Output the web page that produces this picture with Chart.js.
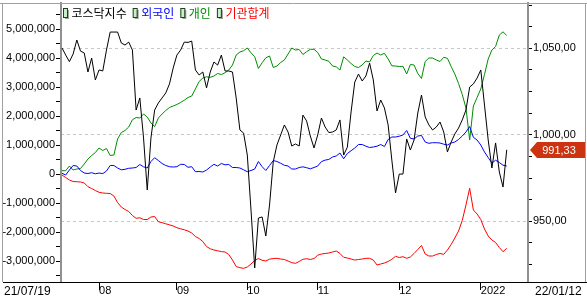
<!DOCTYPE html>
<html>
<head>
<meta charset="utf-8">
<script src="https://cdn.jsdelivr.net/npm/chart.js@4.4.0/dist/chart.umd.min.js"></script>
<style>
  html, body { margin: 0; padding: 0; background: #fff; }
  canvas { display: block; }
</style>
</head>
<body>
<canvas id="chart" width="587" height="301"></canvas>
<script>
// legend order / colours
var seriesNames = ['코스닥지수', '외국인', '개인', '기관합계'];
var seriesColors = ['#000000', '#0000ff', '#008c00', '#ff0000'];

// month starts on the trading-day axis (day 0 = 21/07/19)
var monthTicks = [10, 31, 50, 69, 91, 113];
var monthLabels = ['08', '09', '10', '11', '12', '2022'];
var firstDate = '21/07/19';
var lastDate = '22/01/12';

// labelled ticks of both value axes
var leftTicks = [-3000000, -2000000, -1000000, 0, 1000000, 2000000, 3000000, 4000000, 5000000];
var rightTicks = [950, 1000, 1050];

// KOSDAQ index, right axis
var kosdaq = [1050.2,1046.1,1042.3,1046.7,1054.8,1048.4,1047.3,1036.3,1044.4,1031.7,
  1037.5,1036.9,1049.0,1059.4,1059.4,1059.4,1053.1,1051.9,1053.6,1049.0,
  1014.3,1021.3,998.2,968.1,998.2,1014.3,1018.4,1021.3,1024.2,1029.4,
  1038.6,1046.1,1049.0,1053.6,1053.4,1054.2,1037.5,1034.6,1036.3,1027.1,
  1036.3,1042.1,1040.3,1046.1,1036.9,1036.9,1036.3,1021.3,1002.8,1001.0,
  988.3,956.5,923.0,951.9,952.5,941.5,959.4,984.3,994.1,999.9,
  1005.7,1001.6,993.5,994.7,993.5,1011.4,1008.0,999.3,992.4,999.9,
  1009.7,1004.5,1001.3,1001.6,1002.8,1008.6,988.3,992.9,1013.2,1030.5,
  1035.1,1031.1,1034.0,1041.5,1031.7,1013.8,1020.1,1015.5,1005.7,985.4,
  966.4,977.3,977.3,997.6,991.2,997.0,1012.6,1023.0,1010.3,1005.7,
  1002.8,1004.5,1007.4,1001.6,990.1,995.8,1000.5,1003.9,1008.6,1014.3,
  1027.6,1029.4,1032.8,1037.5,1017.2,997.0,980.8,995.3,978.5,969.8,
  991.33];

// cumulative net buying, left axis
var foreign = [24000,-34000,138000,293000,276000,121000,34000,17000,45000,7000,
  34000,14000,103000,293000,293000,207000,145000,162000,197000,207000,
  224000,328000,248000,207000,431000,562000,466000,362000,293000,252000,
  241000,252000,334000,328000,231000,252000,79000,86000,69000,138000,
  241000,334000,276000,362000,317000,328000,224000,224000,207000,145000,
  79000,121000,172000,431000,252000,121000,293000,466000,431000,372000,
  300000,276000,172000,172000,224000,248000,217000,179000,224000,276000,
  428000,479000,503000,586000,621000,724000,524000,707000,803000,897000,
  1017000,1017000,959000,914000,931000,959000,1017000,948000,1190000,1276000,
  1276000,1303000,1345000,1500000,1231000,1207000,1310000,1328000,1103000,1059000,
  1079000,1079000,1069000,1028000,1000000,1069000,1103000,1190000,1310000,1448000,
  1638000,1266000,1172000,1000000,759000,569000,379000,476000,397000,303000,
  276000];

var individual = [114000,114000,276000,138000,172000,190000,345000,517000,638000,741000,
  897000,810000,879000,638000,655000,1207000,1431000,1500000,1621000,1872000,
  1948000,1931000,2069000,1966000,1759000,1631000,1931000,2069000,2190000,2293000,
  2345000,2397000,2466000,2545000,2638000,2690000,2931000,3190000,3310000,3352000,
  3334000,3379000,3466000,3431000,3493000,3586000,3759000,4103000,4207000,4252000,
  4345000,4179000,4045000,3638000,3838000,4007000,4069000,3672000,3724000,3845000,
  3931000,4138000,4345000,4276000,4293000,4121000,4217000,4300000,4300000,4190000,
  3966000,3931000,3886000,3724000,3697000,3586000,4041000,3931000,3810000,3707000,
  3672000,3759000,3897000,3862000,4086000,4172000,4103000,4162000,3966000,3731000,
  3724000,3707000,3714000,3448000,3776000,3759000,3466000,3293000,3879000,4000000,
  4000000,3931000,3879000,4024000,3990000,3707000,3448000,3121000,2741000,2276000,
  1172000,2345000,2638000,2931000,3431000,3966000,4276000,4397000,4793000,4903000,
  4776000];

var institution = [-34000,-121000,-207000,-259000,-266000,-276000,-310000,-438000,-500000,-569000,
  -631000,-655000,-666000,-672000,-759000,-983000,-1138000,-1224000,-1293000,-1431000,
  -1528000,-1510000,-1569000,-1569000,-1483000,-1466000,-1645000,-1679000,-1717000,-1752000,
  -1793000,-1852000,-1890000,-1924000,-1966000,-2034000,-2155000,-2224000,-2328000,-2500000,
  -2579000,-2621000,-2648000,-2676000,-2690000,-2776000,-2966000,-3190000,-3231000,-3252000,
  -3207000,-3103000,-2983000,-2914000,-2976000,-3000000,-2938000,-2914000,-2907000,-2931000,
  -2948000,-3000000,-3059000,-3079000,-3017000,-2941000,-2921000,-2948000,-2914000,-2800000,
  -2759000,-2741000,-2724000,-2690000,-2655000,-2741000,-2872000,-2897000,-2931000,-2966000,
  -2948000,-2931000,-2907000,-2907000,-2966000,-3138000,-3103000,-3069000,-3017000,-2941000,
  -2838000,-2879000,-2852000,-2907000,-2862000,-2741000,-2603000,-2466000,-2759000,-2828000,
  -2828000,-2776000,-2741000,-2769000,-2621000,-2431000,-2207000,-1966000,-1603000,-1069000,
  -493000,-1241000,-1379000,-1569000,-1897000,-2138000,-2276000,-2362000,-2534000,-2679000,
  -2562000];

function toPoints(arr) {
  return arr.map(function (v, i) { return { x: i, y: v }; });
}

// index labels are shown as 1,050,00 in the original
function fmtIndex(v) {
  var parts = v.toFixed(2).split('.');
  return Number(parts[0]).toLocaleString('en-US') + ',' + parts[1];
}

function noPad(s) {
  s.paddingTop = 0; s.paddingBottom = 0; s.paddingLeft = 0; s.paddingRight = 0;
}

// labelled ticks plus unlabelled minor ticks between them
function withMinor(major, step, parts, lo, hi) {
  var out = [];
  var first = major[0] - step;
  for (var k = 0; k <= (major.length + 1) * parts; k++) {
    var v = first + k * step / parts;
    if (v > lo && v < hi) out.push({ value: v });
  }
  return out;
}

// frame, legend, end dates and current value tag
var decorations = {
  id: 'decorations',
  afterDraw: function (chart) {
    var ctx = chart.ctx;
    var area = chart.chartArea;
    ctx.save();

    ctx.lineWidth = 1;
    ctx.strokeStyle = '#a0a0a0';
    ctx.beginPath();
    ctx.moveTo(0, 3.5); ctx.lineTo(587, 3.5);
    ctx.moveTo(2.5, 3); ctx.lineTo(2.5, area.bottom);
    ctx.moveTo(585.5, 3); ctx.lineTo(585.5, area.bottom);
    ctx.stroke();
    ctx.strokeStyle = '#000';
    ctx.beginPath();
    ctx.moveTo(3, area.bottom + 0.5); ctx.lineTo(587, area.bottom + 0.5);
    ctx.stroke();

    // date labels at both ends
    ctx.fillStyle = '#000';
    ctx.font = '12px "Liberation Sans"';
    ctx.textBaseline = 'middle';
    ctx.textAlign = 'left';
    ctx.fillText(firstDate, 4, 292);
    ctx.fillText(lastDate, 535, 292);

    // legend
    ctx.font = '12px "Noto Sans CJK KR"';
    var x = 63;
    chart.data.datasets.forEach(function (ds) {
      ctx.fillStyle = '#a0a0a0';
      ctx.fillRect(x + 2, 10, 4, 9);
      ctx.fillStyle = '#c8f0c8';
      ctx.fillRect(x, 8, 4, 9);
      ctx.strokeStyle = '#204020';
      ctx.strokeRect(x + 0.5, 8.5, 4, 9);
      ctx.fillStyle = ds.borderColor;
      ctx.fillText(ds.label, x + 8.5, 13);
      x += 8.5 + ctx.measureText(ds.label).width + 6;
    });

    // current value tag
    var y2 = chart.scales.y2;
    var last = kosdaq[kosdaq.length - 1];
    var ty = Math.round(y2.getPixelForValue(last));
    ctx.fillStyle = '#cc3311';
    ctx.beginPath();
    ctx.moveTo(530, ty);
    ctx.lineTo(537, ty - 8);
    ctx.lineTo(585, ty - 8);
    ctx.lineTo(585, ty + 8);
    ctx.lineTo(537, ty + 8);
    ctx.closePath();
    ctx.fill();
    ctx.fillStyle = '#fff';
    ctx.font = '11px "Liberation Sans"';
    ctx.textAlign = 'center';
    ctx.fillText(fmtIndex(last), 559, ty + 0.5);

    ctx.restore();
  }
};

Chart.defaults.font.family = '"Liberation Sans", Arial, sans-serif';
Chart.defaults.font.size = 11;
Chart.defaults.color = '#000';

var seriesData = [kosdaq, foreign, individual, institution];
var datasets = seriesData.map(function (arr, i) {
  return {
    label: seriesNames[i],
    data: toPoints(arr),
    borderColor: seriesColors[i],
    backgroundColor: seriesColors[i],
    borderWidth: 1,
    pointRadius: 0,
    tension: 0,
    fill: false,
    yAxisID: i === 0 ? 'y2' : 'y'
  };
});

var ctx = document.getElementById('chart').getContext('2d');
var myChart = new Chart(ctx, {
  type: 'line',
  data: { datasets: datasets },
  options: {
    responsive: false,
    devicePixelRatio: 1,
    animation: false,
    layout: { padding: { top: 3, left: 0, right: 0, bottom: 0 } },
    plugins: { legend: { display: false }, tooltip: { enabled: false } },
    scales: {
      x: {
        type: 'linear',
        min: -0.27,
        max: 125.74,
        afterBuildTicks: function (s) {
          s.ticks = monthTicks.map(function (v) { return { value: v }; });
        },
        afterFit: function (s) { s.height = 19; noPad(s); },
        ticks: {
          autoSkip: false,
          maxRotation: 0,
          align: 'start',
          padding: -6,
          callback: function (v) {
            var k = monthTicks.indexOf(v);
            return k >= 0 ? monthLabels[k] : '';
          }
        },
        grid: { drawOnChartArea: false, drawTicks: true, tickLength: 8, tickColor: '#000' },
        border: { color: '#000', width: 1 }
      },
      y: {
        position: 'left',
        min: -3724000,
        max: 5897000,
        afterBuildTicks: function (s) {
          s.ticks = withMinor(leftTicks, 1000000, 2, s.min, s.max);
        },
        afterFit: function (s) { s.width = 61; noPad(s); },
        ticks: {
          autoSkip: false,
          padding: 1,
          callback: function (v) {
            return leftTicks.indexOf(v) >= 0 ? v.toLocaleString('en-US') : '';
          }
        },
        grid: { drawOnChartArea: false, drawTicks: true, tickLength: 5, tickColor: '#000' },
        border: { color: '#909090', width: 2 }
      },
      y2: {
        position: 'right',
        min: 914.9,
        max: 1076.2,
        afterBuildTicks: function (s) {
          s.ticks = withMinor(rightTicks, 50, 4, s.min, s.max);
        },
        afterFit: function (s) { s.width = 59; noPad(s); },
        ticks: {
          autoSkip: false,
          padding: 1,
          callback: function (v) {
            return rightTicks.indexOf(v) >= 0 ? fmtIndex(v) : '';
          }
        },
        grid: {
          drawOnChartArea: true,
          drawTicks: true,
          tickLength: 4,
          tickColor: '#000',
          color: function (c) {
            return c.tick && rightTicks.indexOf(c.tick.value) >= 0 ? '#c8c8c8' : 'rgba(0,0,0,0)';
          }
        },
        border: { color: '#909090', width: 2, dash: [3, 3] }
      }
    }
  },
  plugins: [decorations]
});
</script>
</body>
</html>
